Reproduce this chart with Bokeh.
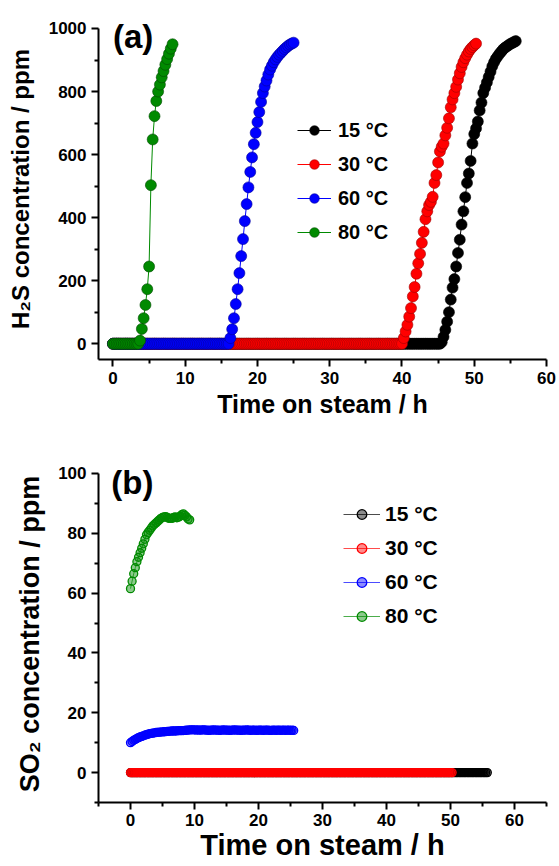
import numpy as np
from bokeh.plotting import figure
from bokeh.models import FixedTicker, Legend, LegendItem, Label
from bokeh.layouts import column
from bokeh.embed import file_html
from bokeh.resources import INLINE

# ---------------- data ----------------
series_labels = ["15 °C", "30 °C", "60 °C", "80 °C"]
colors = ["#000000", "#ff0000", "#0000ff", "#008a00"]
edge_colors = ["#000000", "#a00000", "#00009a", "#004a00"]
step_h = 0.25  # sampling interval (h)

# (a) H2S outlet concentration (ppm)
h2s_15C = [0] * 182 + [
    5, 22, 44, 70, 100, 140, 178, 205, 245, 288, 330, 378, 420, 465, 510, 540,
    580, 635, 665, 683, 705, 740, 765, 795, 812, 829, 846, 863, 880, 893, 904,
    912, 920, 927, 934, 939, 943, 947, 951, 954, 957, 960]
h2s_30C = [0] * 161 + [
    18, 39, 60, 86, 113, 150, 180, 222, 255, 285, 320, 355, 395, 420, 440, 450,
    466, 510, 535, 575, 610, 625, 635, 661, 685, 715, 750, 775, 795, 815, 838,
    858, 878, 893, 906, 917, 927, 935, 941, 947, 952]
h2s_60C = [0] * 65 + [
    18, 46, 81, 126, 173, 224, 278, 332, 389, 443, 496, 545, 591, 633, 669, 703,
    735, 767, 795, 816, 835, 854, 870, 882, 893, 902, 910, 917, 923, 929, 935,
    940, 945, 949, 952, 955]
h2s_80C = [0] * 15 + [
    10, 47, 81, 123, 173, 245, 503, 648, 722, 770, 800, 822, 845, 865, 885, 903,
    920, 936, 950]

# (b) SO2 outlet concentration (ppm)
so2_15C = [0] * 224
so2_30C = [0] * 202
so2_60C = [
    10.0, 10.4, 10.8, 11.1, 11.4, 11.7, 11.9, 12.1, 12.3, 12.5, 12.7, 12.85, 13.0,
    13.1, 13.2, 13.3, 13.4, 13.45, 13.5, 13.55, 13.6, 13.65, 13.7, 13.75, 13.8,
    13.85, 13.9, 13.9, 13.9, 13.95, 14.0, 14.0, 14.0, 14.05, 14.1, 14.15, 14.2,
    14.25, 14.3, 14.3, 14.3,
    14.2, 14.3, 14.2, 14.2, 14.3, 14.3, 14.2, 14.2, 14.1, 14.2,
    14.2, 14.3, 14.2, 14.2, 14.2, 14.1, 14.2, 14.3, 14.2, 14.2,
    14.2, 14.1, 14.2, 14.2, 14.3, 14.2, 14.2, 14.2, 14.1, 14.2,
    14.2, 14.2, 14.3, 14.2, 14.1, 14.2, 14.2, 14.2, 14.1, 14.2,
    14.2, 14.2, 14.1, 14.2, 14.2, 14.2, 14.1, 14.1, 14.2, 14.2,
    14.1, 14.2, 14.2, 14.1, 14.2, 14.2, 14.1, 14.2, 14.2, 14.1,
    14.2, 14.1]
so2_80C = [
    61.5, 64, 66.5, 68.5, 70.5, 72, 73.5, 75, 76.5, 78,
    79.5, 80.3, 81, 81.8, 82.5, 83, 83.5, 84, 84.5, 85,
    85.3, 85.5, 85.6, 85.3, 85.0, 85.1, 85.0, 85.3, 85.5, 85.2,
    85.4, 85.7, 86.2, 86.5, 86.0, 85.5, 84.8, 84.5]

x_ticks = [0, 10, 20, 30, 40, 50, 60]
ya_ticks = [0, 200, 400, 600, 800, 1000]
yb_ticks = [0, 20, 40, 60, 80, 100]

FONT = "Liberation Sans"


def times(vals):
    return np.arange(len(vals)) * step_h


def style_axes(p, xlabel, ylabel, xl_size, yl_size, x_minor,
               xl_standoff, yl_standoff, major_standoff_x):
    p.xaxis.ticker = FixedTicker(ticks=x_ticks, minor_ticks=x_minor)
    p.xaxis.axis_label = xlabel
    p.yaxis.axis_label = ylabel
    for ax in (p.xaxis[0], p.yaxis[0]):
        ax.axis_line_width = 2
        ax.axis_line_color = "black"
        ax.major_tick_line_width = 2
        ax.major_tick_line_color = "black"
        ax.minor_tick_line_width = 2
        ax.minor_tick_line_color = "black"
        ax.major_tick_out = 7
        ax.major_tick_in = 0
        ax.minor_tick_out = 4
        ax.minor_tick_in = 0
        ax.major_label_text_font = FONT
        ax.major_label_text_font_style = "bold"
        ax.major_label_text_font_size = "17px"
        ax.major_label_text_color = "black"
        ax.axis_label_text_font = FONT
        ax.axis_label_text_font_style = "bold"
        ax.axis_label_text_color = "black"
    p.xaxis.axis_label_text_font_size = xl_size
    p.yaxis.axis_label_text_font_size = yl_size
    p.xaxis.major_label_standoff = major_standoff_x
    p.yaxis.major_label_standoff = 5
    p.xaxis.axis_label_standoff = xl_standoff
    p.yaxis.axis_label_standoff = yl_standoff
    p.xgrid.visible = False
    p.ygrid.visible = False
    p.outline_line_color = None


def make_legend(items, loc, gw, standoff, fsize):
    return Legend(items=items, location=loc, padding=0, margin=0, spacing=10,
                  glyph_width=gw, glyph_height=24, label_height=24,
                  label_standoff=standoff, label_text_font=FONT,
                  label_text_font_style="bold", label_text_font_size=fsize,
                  label_text_color="black", border_line_color=None,
                  background_fill_alpha=0)


# ---------------- panel (a) ----------------
# range extends slightly above 1000 (axis line bounded at 1000) so "(a)" is not clipped
pa = figure(width=559, height=421, x_range=(-2, 60), y_range=(-50, 1031.7),
            output_backend="svg", toolbar_location=None,
            min_border_left=98, min_border_right=12, min_border_top=18,
            min_border_bottom=62)
style_axes(pa, "Time on steam / h", "H\u2082S concentration / ppm", "25px", "24px",
           [5, 15, 25, 35, 45, 55], 3, 12, 5)
pa.yaxis.ticker = FixedTicker(ticks=ya_ticks, minor_ticks=[100, 300, 500, 700, 900])
pa.yaxis.bounds = (-50, 1000)

items_a = []
for vals, lab, c, ec in zip([h2s_15C, h2s_30C, h2s_60C, h2s_80C], series_labels,
                            colors, edge_colors):
    t = times(vals)
    lr = pa.line(t, vals, line_color=c, line_width=1)
    sr = pa.scatter(t, vals, size=11, fill_color=c, line_color=ec, line_width=0.6)
    items_a.append(LegendItem(label=lab, renderers=[lr, sr]))

pa.add_layout(make_legend(items_a, (199, 115), 34, 7, "20px"), "center")
pa.add_layout(Label(x=0, y=975, text="(a)", text_font=FONT, text_font_style="bold",
                    text_font_size="33px", text_baseline="middle", text_color="black"))

# ---------------- panel (b) ----------------
pb = figure(width=559, height=445, x_range=(-5, 65), y_range=(-10, 102.67),
            output_backend="svg", toolbar_location=None,
            min_border_left=98, min_border_right=13, min_border_top=44,
            min_border_bottom=64)
style_axes(pb, "Time on steam / h", "SO\u2082 concentration / ppm", "29px", "27px",
           [-5, 5, 15, 25, 35, 45, 55, 65], 0, 10, 4)
pb.yaxis.ticker = FixedTicker(ticks=yb_ticks, minor_ticks=[-10, 10, 30, 50, 70, 90])
pb.yaxis.bounds = (-10, 100)

items_b = []
for vals, lab, c, ec in zip([so2_15C, so2_30C, so2_60C, so2_80C], series_labels,
                            colors, edge_colors):
    t = times(vals)
    lr = pb.line(t, vals, line_color=c, line_width=1, line_alpha=0.7)
    sr = pb.scatter(t, vals, size=8, fill_color=c, fill_alpha=0.45, line_color=c,
                    line_width=1.3)
    items_b.append(LegendItem(label=lab, renderers=[lr, sr]))

pb.add_layout(make_legend(items_b, (245, 174), 37, 5, "21px"), "center")
pb.add_layout(Label(x=-3, y=97, text="(b)", text_font=FONT, text_font_style="bold",
                    text_font_size="33px", text_baseline="middle", text_color="black"))

layout = column(pa, pb)
open("out.html", "w").write(file_html(layout, INLINE))
